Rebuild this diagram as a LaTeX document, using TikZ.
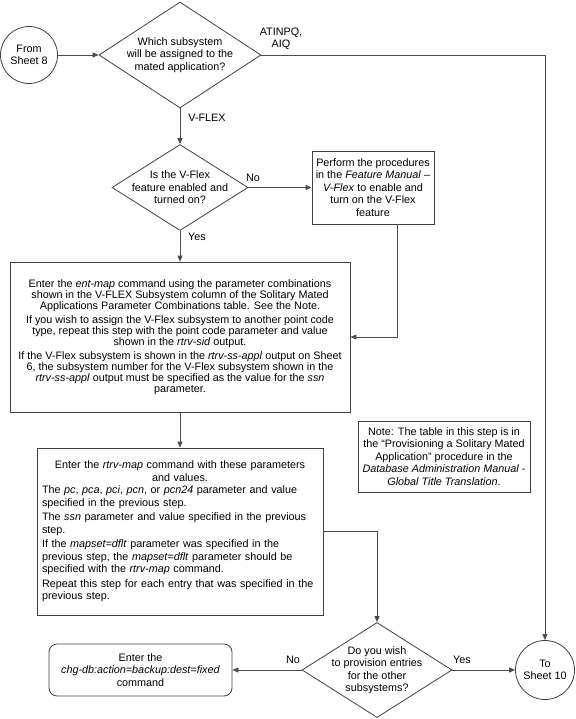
\documentclass[tikz,border=0pt]{standalone}
\usepackage{fontspec}
\setmainfont{Liberation Sans}
\usetikzlibrary{shapes.geometric,arrows.meta}

\begin{document}
\begin{tikzpicture}
[x=1pt,y=-1pt,
  font=\fontsize{10.8}{12.5}\selectfont,
  termdecorate/.style={shape=circle,draw=black!75,line width=0.8pt,inner sep=0pt,minimum size=57pt,align=center},%
  choicedecorate/.style={shape=diamond,draw=black!75,line width=0.8pt,inner sep=0pt},%
  boxdecorate/.style={shape=rectangle,draw=black!75,line width=0.8pt,inner sep=0pt,align=center},%
  linedecorate/.style={draw=black!70,line width=0.8pt,-{Triangle[length=6pt,width=5pt]}}]
\useasboundingbox (0,0) rectangle (575,719);
%% terminals
\node (from8) at (29,55) [termdecorate] {From\\Sheet 8};
\node (to10) at (545,670) [termdecorate,minimum size=59pt] {To\\Sheet 10};
%% decisions
\node (q1) at (180,55) [choicedecorate,minimum width=162pt,minimum height=106pt,
  label={[align=center]center:Which subsystem\\will be assigned to the\\mated application?}] {};
\node (q2) at (180,187.5) [choicedecorate,minimum width=136pt,minimum height=86pt,
  label={[align=center]center:Is the V-Flex\\feature enabled and\\turned on?}] {};
\node (q3) at (377,670) [choicedecorate,minimum width=150pt,minimum height=95pt,
  label={[align=center]center:Do you wish\\to provision entries\\for the other\\subsystems?}] {};
%% process boxes
\node (perform) at (373,187.5) [boxdecorate,minimum width=122pt,minimum height=73pt]
  {Perform the procedures\\in the \textit{Feature Manual} --\\\textit{V-Flex} to enable and\\turn on the V-Flex\\feature};
\node (entmap) at (180,337) [boxdecorate,minimum width=340pt,minimum height=150pt,
  font=\fontsize{10.8}{11}\selectfont]
  {Enter the \textit{ent-map} command using the parameter combinations\\
   shown in the V-FLEX Subsystem column of the Solitary Mated\\
   Applications Parameter Combinations table. See the Note.\\[3pt]
   If you wish to assign the V-Flex subsystem to another point code\\
   type, repeat this step with the point code parameter and value\\
   shown in the \textit{rtrv-sid} output.\\[3pt]
   If the V-Flex subsystem is shown in the \textit{rtrv-ss-appl} output on Sheet\\
   6, the subsystem number for the V-Flex subsystem shown in the\\
   \textit{rtrv-ss-appl} output must be specified as the value for the \textit{ssn}\\
   parameter.};
\node (rtrvmap) at (180,531.5) [boxdecorate,minimum width=286pt,minimum height=167pt,
  text width=276pt,align=left]
  {{\centering Enter the \textit{rtrv-map} command with these parameters\\and values.\par}
   The \textit{pc}, \textit{pca}, \textit{pci}, \textit{pcn}, or \textit{pcn24} parameter and value\\
   specified in the previous step.\\[2pt]
   The \textit{ssn} parameter and value specified in the previous\\
   step.\\[2pt]
   If the \textit{mapset=dflt} parameter was specified in the\\
   previous step, the \textit{mapset=dflt} parameter should be\\
   specified with the \textit{rtrv-map} command.\\[2pt]
   Repeat this step for each entry that was specified in the\\
   previous step.};
\node (chgdb) at (140.5,670) [boxdecorate,rounded corners=8pt,minimum width=183pt,minimum height=52pt]
  {Enter the\\\textit{chg-db:action=backup:dest=fixed}\\command};
\node (note) at (444,456.5) [boxdecorate,minimum width=172pt,minimum height=71pt]
  {Note: The table in this step is in\\the ``Provisioning a Solitary Mated\\Application'' procedure in the\\
   \textit{Database Administration Manual -}\\\textit{Global Title Translation}.};
%% branch labels
\node (atinpq) at (281,39) [align=center] {ATINPQ,\\AIQ};
\node (vflex) at (207,118) {V-FLEX};
\node (no1) at (253,178) {No};
\node (yes1) at (197,237) {Yes};
\node (no2) at (293,660) {No};
\node (yes2) at (462,660) {Yes};
%% connectors
\path
\foreach \startnode/\endnode in {
  from8/q1, q1/q2, q2/perform, q2/entmap, entmap/rtrvmap, q3/chgdb, q3/to10} {
  (\startnode) edge[linedecorate] (\endnode)
};
\draw[linedecorate] (q1.east) -| (to10.north);
\draw[linedecorate] ([xshift=24pt]perform.south) |- (entmap.east);
\draw[linedecorate] (rtrvmap.east) -| (q3.north);
\end{tikzpicture}
\end{document}
